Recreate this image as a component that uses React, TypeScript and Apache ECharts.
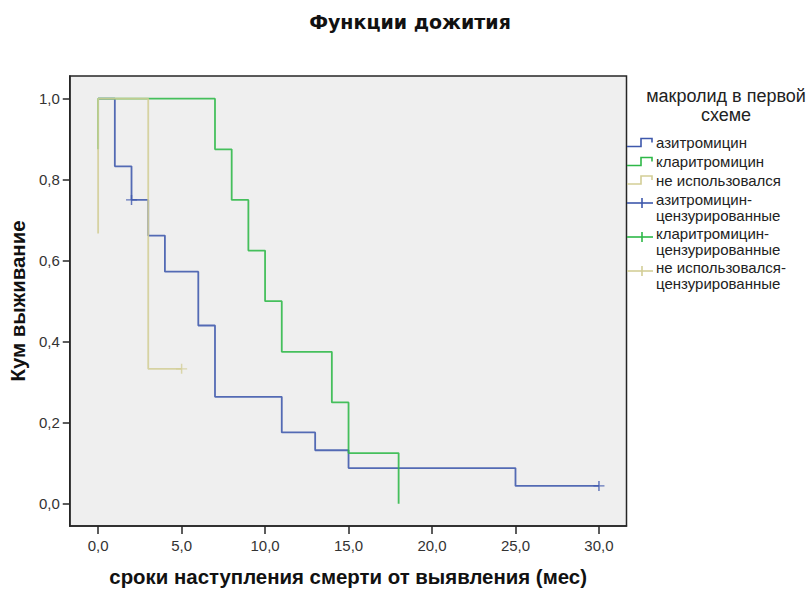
import React, { useEffect, useRef } from "react";
import * as echarts from "echarts";

// ---- texts ----
const titleText = "Функции дожития";
const xAxisName = "сроки наступления смерти от выявления (мес)";
const yAxisName = "Кум выживание";
const legendTitle = "макролид в первой\nсхеме";

// ---- ticks ----
const xTicks = [0, 5, 10, 15, 20, 25, 30];
const yTicks = [0, 0.2, 0.4, 0.6, 0.8, 1.0];

// ---- groups ----
const groupNames = ["азитромицин", "кларитромицин", "не использовался"];
const censorNames = [
  "азитромицин-\nцензурированные",
  "кларитромицин-\nцензурированные",
  "не использовался-\nцензурированные",
];
const groupColors = ["#3E58AC", "#2EB848", "#D3CE97"];

// азитромицин
const aziTimes = [0, 1, 2, 3, 4, 6, 7, 11, 13, 15, 25, 30];
const aziSurv = [1, 0.833, 0.75, 0.662, 0.573, 0.44, 0.264, 0.176, 0.132, 0.088, 0.044, 0.044];
const aziStart = 1.0;
const aziCensorTimes = [2, 30];
const aziCensorSurv = [0.75, 0.044];

// кларитромицин
const claTimes = [0, 7, 8, 9, 10, 11, 14, 15, 18];
const claSurv = [1, 0.875, 0.75, 0.625, 0.5, 0.375, 0.25, 0.125, 0];
const claStart = 0.875;
const claCensorTimes: number[] = [];
const claCensorSurv: number[] = [];

// не использовался
const noneTimes = [0, 3, 5];
const noneSurv = [1, 0.333, 0.333];
const noneStart = 0.667;
const noneCensorTimes = [5];
const noneCensorSurv = [0.333];

function stepPoints(times: number[], surv: number[], start: number) {
  const pts: number[][] = [[times[0], start], [times[0], surv[0]]];
  for (let i = 1; i < times.length; i++) {
    pts.push([times[i], surv[i - 1]]);
    pts.push([times[i], surv[i]]);
  }
  return pts;
}

function zipPts(t: number[], s: number[]) {
  return t.map((v, i) => [v, s[i]]);
}

const fmt = (v: number) => v.toFixed(1).replace(".", ",");

const FONT = "'Liberation Sans', Arial, sans-serif";

function buildOption() {
  const curves = [
    stepPoints(aziTimes, aziSurv, aziStart),
    stepPoints(claTimes, claSurv, claStart),
    stepPoints(noneTimes, noneSurv, noneStart),
  ];
  const censors = [
    zipPts(aziCensorTimes, aziCensorSurv),
    zipPts(claCensorTimes, claCensorSurv),
    zipPts(noneCensorTimes, noneCensorSurv),
  ];

  const series: any[] = [];
  curves.forEach((pts, i) => {
    series.push({
      type: "line",
      name: groupNames[i],
      data: pts,
      showSymbol: false,
      symbol: "none",
      lineStyle: { color: groupColors[i], width: 1.8, opacity: 0.88 },
      itemStyle: { color: groupColors[i] },
      z: 2 + i,
    });
  });
  censors.forEach((pts, i) => {
    series.push({
      type: "scatter",
      name: censorNames[i],
      data: pts,
      symbol: "path://M0,5L10,5M5,0L5,10",
      symbolSize: [11, 10],
      itemStyle: { color: "none", borderColor: groupColors[i], borderWidth: 1.4 },
      z: 6,
    });
  });

  const graphic: any[] = [];
  // title
  graphic.push({
    type: "text",
    x: 410,
    y: 22,
    silent: true,
    style: {
      text: titleText,
      font: `bold 19px 'DejaVu Sans', Verdana, sans-serif`,
      fill: "#111",
      align: "center",
      verticalAlign: "middle",
    },
  });

  // legend drawn as graphic
  const lx0 = 627;
  const lx1 = 653;
  const textX = 656;
  graphic.push({
    type: "text",
    x: 726,
    y: 87,
    silent: true,
    style: {
      text: legendTitle,
      font: `18px ${FONT}`,
      fill: "#222",
      align: "center",
      verticalAlign: "top",
      lineHeight: 18.5,
    },
  });
  const stepCenters = [142.5, 161.5, 180];
  groupNames.forEach((name, i) => {
    const c = stepCenters[i];
    graphic.push({
      type: "polyline",
      silent: true,
      shape: {
        points: [
          [lx0, c + 4],
          [641, c + 4],
          [641, c - 4],
          [652, c - 4],
          [652, c],
        ],
      },
      style: { stroke: groupColors[i], lineWidth: 1.6, fill: null },
    });
    graphic.push({
      type: "text",
      x: textX,
      y: c,
      silent: true,
      style: { text: name, font: `15px ${FONT}`, fill: "#222", align: "left", verticalAlign: "middle" },
    });
  });
  const censorCenters = [207, 241, 275];
  censorNames.forEach((name, i) => {
    const c = censorCenters[i];
    const iy = c - 4;
    graphic.push({
      type: "polyline",
      silent: true,
      shape: { points: [[lx0, iy], [lx1, iy]] },
      style: { stroke: groupColors[i], lineWidth: 1.6, fill: null },
    });
    graphic.push({
      type: "line",
      silent: true,
      shape: { x1: 642, y1: iy - 5, x2: 642, y2: iy + 5 },
      style: { stroke: groupColors[i], lineWidth: 1.6 },
    });
    graphic.push({
      type: "text",
      x: textX,
      y: c,
      silent: true,
      style: {
        text: name,
        font: `15px ${FONT}`,
        fill: "#222",
        align: "left",
        verticalAlign: "middle",
        lineHeight: 16,
      },
    });
  });

  return {
    animation: false,
    backgroundColor: "#ffffff",
    grid: {
      left: 69.5,
      right: 180.5,
      top: 76,
      bottom: 62,
      show: true,
      backgroundColor: "#efefef",
      borderColor: "#262626",
      borderWidth: 1.5,
    },
    xAxis: {
      type: "value",
      min: -1.7,
      max: 31.65,
      name: xAxisName,
      nameLocation: "middle",
      nameGap: 41,
      nameTextStyle: { fontFamily: FONT, fontWeight: "bold", fontSize: 20.4, color: "#111" },
      axisLine: { show: true, onZero: false, lineStyle: { color: "#262626", width: 1.5 } },
      axisTick: { show: true, customValues: xTicks, length: 8, lineStyle: { color: "#262626", width: 1.5 } },
      axisLabel: { customValues: xTicks, formatter: fmt, fontFamily: FONT, fontSize: 15, color: "#333", margin: 12 },
      splitLine: { show: false },
    },
    yAxis: {
      type: "value",
      min: -0.055,
      max: 1.056,
      name: yAxisName,
      nameLocation: "middle",
      nameGap: 38,
      nameTextStyle: { fontFamily: FONT, fontWeight: "bold", fontSize: 20.4, color: "#111" },
      axisLine: { show: true, onZero: false, lineStyle: { color: "#262626", width: 1.5 } },
      axisTick: { show: true, customValues: yTicks, length: 7, lineStyle: { color: "#262626", width: 1.5 } },
      axisLabel: { customValues: yTicks, formatter: fmt, fontFamily: FONT, fontSize: 15, color: "#333", margin: 10 },
      splitLine: { show: false },
    },
    graphic,
    series,
  };
}

export default function App() {
  const ref = useRef<HTMLDivElement>(null);
  useEffect(() => {
    document.body.style.margin = "0";
    const chart = echarts.init(ref.current!, null, { renderer: "svg" });
    chart.setOption(buildOption() as any);
    return () => chart.dispose();
  }, []);
  return <div ref={ref} style={{ width: 807, height: 592, background: "#fff" }} />;
}
